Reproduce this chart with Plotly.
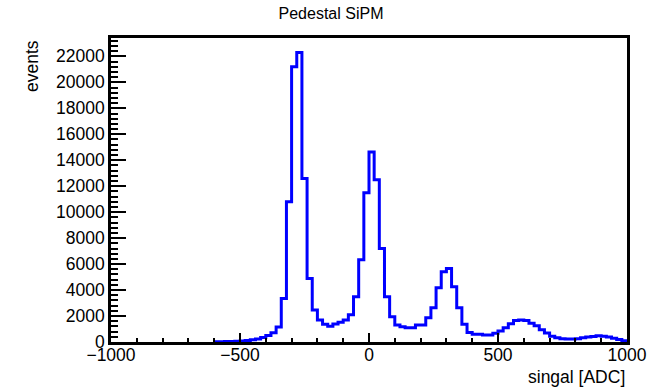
import numpy as np
import plotly.graph_objects as go

# Histogram definition (ROOT-like TH1: 100 bins from -1000 to 1000)
x_min = -1000
x_max = 1000
n_bins = 100

# Bin contents
counts = [
    0, 0, 0, 0, 0, 0, 0, 0, 0, 0,
    0, 0, 0, 0, 0, 0, 0, 0, 0, 0,
    10, 20, 30, 40, 50, 80, 120, 180, 230, 340,
    500, 720, 1150, 3360, 10800, 21200, 22300, 12600, 4900, 2460,
    1690, 1360, 1220, 1380, 1520, 1690, 2100, 3490, 6330, 11490,
    14640, 12500, 7200, 3490, 1950, 1310, 1180, 1100, 1100, 1300,
    1300, 1870, 2640, 4180, 5410, 5670, 4260, 2640, 1360, 740,
    590, 590, 540, 540, 670, 850, 1100, 1400, 1650, 1700,
    1650, 1450, 1250, 950, 700, 450, 330, 250, 230, 230,
    250, 330, 380, 420, 480, 440, 380, 280, 200, 100,
]

title_text = "Pedestal SiPM"
x_title = "singal [ADC]"
y_title = "events"

edges = np.linspace(x_min, x_max, n_bins + 1)
# empty leading bins sit on the frame line (hidden, as in ROOT); start at first filled bin
first = next(i for i, c in enumerate(counts) if c > 0)
step_x = list(edges[first:])
step_y = list(counts[first:]) + [counts[-1]]

FONT = "Liberation Sans, Arial, Helvetica, sans-serif"

fig = go.Figure()
fig.add_trace(go.Scatter(
    x=step_x, y=step_y, mode="lines",
    line=dict(color="rgb(0,0,255)", width=3, shape="hv"),
    hoverinfo="skip", showlegend=False,
))

ymax = 1.05 * max(counts)

fig.update_layout(
    width=662, height=391,
    margin=dict(l=111, r=35, t=38, b=49),
    paper_bgcolor="white", plot_bgcolor="white",
    font=dict(family=FONT, size=17.5, color="black"),
    showlegend=False,
    title=dict(text=title_text, x=0.5, xref="container", xanchor="center",
               y=1 - 13 / 391, yref="container", yanchor="middle",
               font=dict(family=FONT, size=16, color="black")),
    xaxis=dict(
        range=[x_min, x_max], showgrid=False, zeroline=False,
        showline=True, linecolor="black", linewidth=2.5, mirror=True,
        ticks="inside", ticklen=9, tickwidth=1.5, tickcolor="black",
        tickmode="linear", tick0=0, dtick=500,
        minor=dict(ticks="inside", ticklen=4.5, tickwidth=1.5, tickcolor="black",
                   dtick=100, tick0=0, showgrid=False),
        tickfont=dict(family=FONT, size=17.5, color="black"),
        ticklabelstandoff=-5,
        layer="above traces",
    ),
    yaxis=dict(
        range=[0, ymax], showgrid=False, zeroline=False,
        showline=True, linecolor="black", linewidth=2.5, mirror=True,
        ticks="inside", ticklen=15, tickwidth=1.5, tickcolor="black",
        tickmode="linear", tick0=0, dtick=2000, tickformat="d",
        minor=dict(ticks="inside", ticklen=7.5, tickwidth=1.5, tickcolor="black",
                   dtick=400, tick0=0, showgrid=False),
        tickfont=dict(family=FONT, size=17.5, color="black"),
        layer="above traces",
    ),
    annotations=[
        dict(text=x_title, xref="paper", yref="paper", x=1, y=-(377 - 342) / 304,
             xanchor="right", yanchor="middle", showarrow=False,
             font=dict(family=FONT, size=17.5, color="black")),
        dict(text=y_title, xref="paper", yref="paper", x=-(111 - 32) / 516, y=1,
             xanchor="center", yanchor="top", textangle=-90, showarrow=False,
             font=dict(family=FONT, size=17.5, color="black")),
    ],
)

fig.write_html("out.html")
